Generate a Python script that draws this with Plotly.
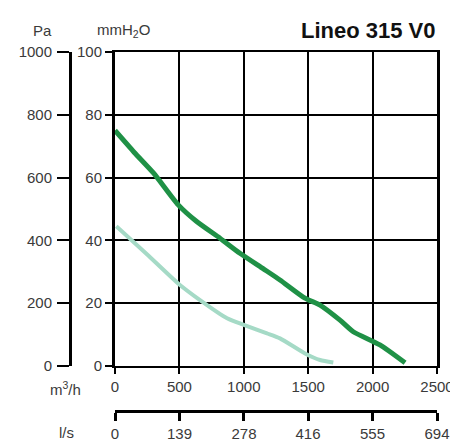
import plotly.graph_objects as go

# Courbes débit (m3/h) / pression (mmH2O)
debit_v0 = [0, 150, 300, 491, 634, 815, 970, 1150, 1281, 1475, 1592, 1747, 1850, 2057, 2252]
pression_v0 = [75, 68, 61.4, 51.3, 46, 40.7, 35.9, 31, 27.4, 21.6, 19.4, 14.6, 10.9, 6.7, 1]

debit_bas = [10, 250, 490, 660, 870, 1000, 1180, 1281, 1475, 1592, 1695]
pression_bas = [44.5, 35.5, 26.3, 21, 15.2, 13.1, 10.4, 8.8, 4, 1.9, 1.1]

ticks_m3h = [0, 500, 1000, 1500, 2000, 2500]
ticks_ls = [0, 139, 278, 416, 555, 694]
ticks_mm = [0, 20, 40, 60, 80, 100]
ticks_pa = [0, 200, 400, 600, 800, 1000]

# la page ajoute une marge de 8 px autour de la figure
OFF = 8
W, H = 458 - OFF, 444 - OFF
ml, mr, mt, mb = 0, 21, 52 - OFF, 0
pw, ph = W - ml - mr, H - mt - mb

def px_x(p):
    return (p - OFF - ml) / pw

def px_y(p):
    return (H - mb - (p - OFF)) / ph

police = dict(family="Liberation Sans, Arial, sans-serif", size=15, color="#3a3a3a")

fig = go.Figure()
fig.add_trace(go.Scatter(x=debit_bas, y=pression_bas, mode="lines",
                         line=dict(color="#a5dac6", width=4, shape="spline", smoothing=0.6),
                         showlegend=False))
fig.add_trace(go.Scatter(x=debit_v0, y=pression_v0, mode="lines",
                         line=dict(color="#1f9146", width=5, shape="spline", smoothing=0.6),
                         showlegend=False))

fig.update_layout(
    width=W, height=H,
    margin=dict(l=ml, r=mr, t=mt, b=mb, autoexpand=False),
    paper_bgcolor="white", plot_bgcolor="white",
    font=police,
    xaxis=dict(domain=[px_x(115), 1], range=[0, 2500], tickvals=ticks_m3h,
               showgrid=True, gridcolor="black", gridwidth=2,
               showline=True, linecolor="black", linewidth=2, mirror=True,
               zeroline=False, ticks="outside", ticklen=6, tickwidth=2,
               tickcolor="black", anchor="y", automargin=False),
    yaxis=dict(domain=[px_y(366), 1], range=[0, 100], tickvals=ticks_mm,
               showgrid=True, gridcolor="black", gridwidth=2,
               showline=True, linecolor="black", linewidth=3, mirror=True,
               zeroline=False, ticks="outside", ticklen=7, tickwidth=2,
               tickcolor="black", anchor="x", automargin=False, ticklabelstandoff=0),
    yaxis2=dict(overlaying="y", anchor="free", position=px_x(70), side="left",
                range=[0, 1000], tickvals=ticks_pa, showgrid=False,
                showline=True, linecolor="black", linewidth=3, zeroline=False,
                ticks="outside", ticklen=12, tickwidth=2, tickcolor="black",
                automargin=False, ticklabelstandoff=2),
    xaxis2=dict(overlaying="x", anchor="free", position=px_y(411), side="bottom",
                range=[0, 694], tickvals=ticks_ls, showgrid=False,
                showline=True, linecolor="black", linewidth=3, zeroline=False,
                ticks="outside", ticklen=8, tickwidth=3, tickcolor="black",
                automargin=False),
)

# trace fantôme pour activer les axes secondaires
fig.add_trace(go.Scatter(x=[None], y=[None], xaxis="x2", yaxis="y2", showlegend=False))

annot = [
    dict(text="<b>Lineo 315 V0</b>", x=438, y=30, xanchor="right",
         font=dict(size=22, color="#111", family="Liberation Sans, Arial, sans-serif")),
    dict(text="Pa", x=42, y=31, xanchor="center"),
    dict(text="mmH<sub>2</sub>O", x=123, y=31, xanchor="center"),
    dict(text="m<sup>3</sup>/h", x=65, y=388, xanchor="center"),
    dict(text="l/s", x=66, y=432, xanchor="center"),
]
for a in annot:
    a.setdefault("font", police)
    fig.add_annotation(text=a["text"], xref="paper", yref="paper",
                       x=px_x(a["x"]), y=px_y(a["y"]), xanchor=a["xanchor"],
                       yanchor="middle", showarrow=False, font=a["font"])

fig.write_html("out.html")
